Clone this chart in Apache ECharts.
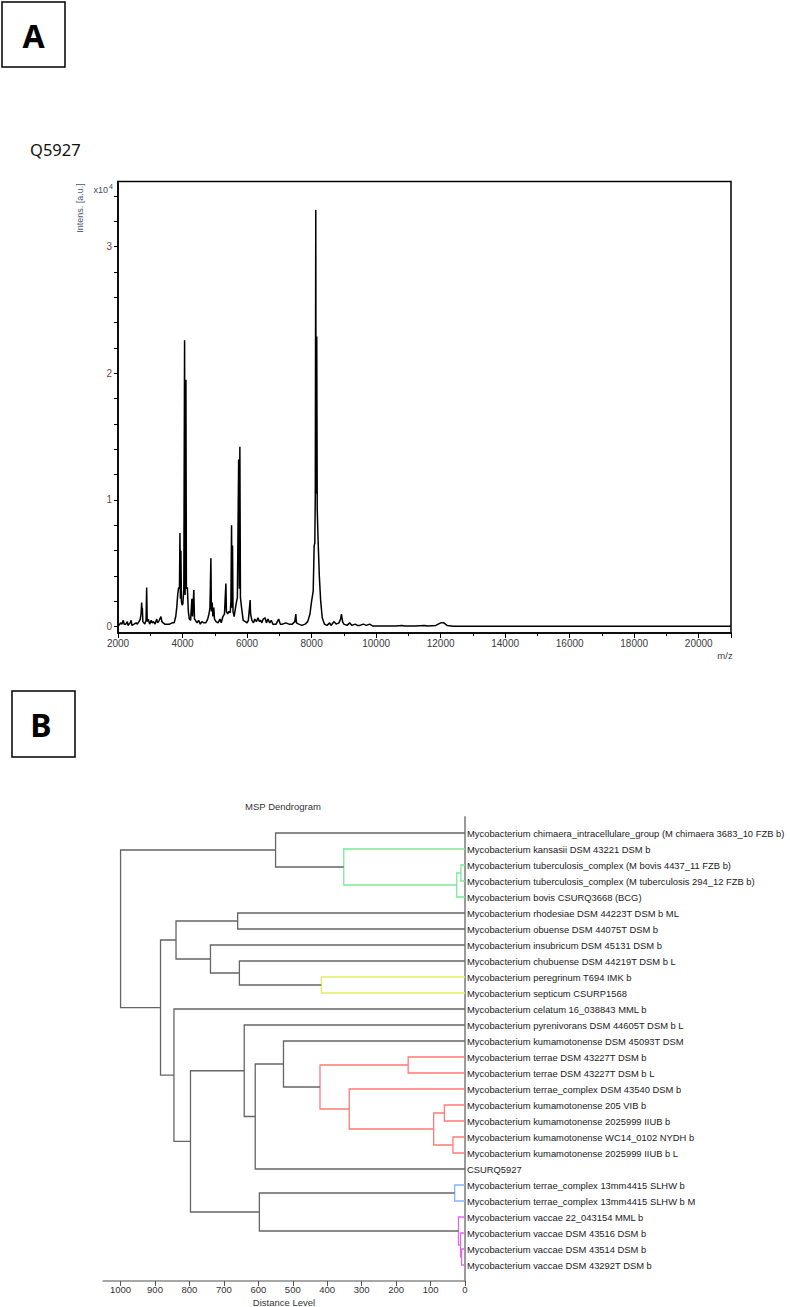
<!DOCTYPE html>
<html>
<head>
<meta charset="utf-8">
<script src="https://cdn.jsdelivr.net/npm/echarts@6/dist/echarts.min.js"></script>
<style>
  html, body { margin: 0; padding: 0; background: #fff; }
  #main { width: 790px; height: 1307px; }
</style>
</head>
<body>
<div id="main"></div>
<script>
// 质谱数据 (m/z, 强度 x10^4)
const mzValues = [
  2000, 2030, 2080, 2120, 2165, 2190, 2240, 2290, 2310, 2380, 2410, 2430, 2500, 2560, 2600, 2650,
  2690, 2715, 2733, 2745, 2755, 2770, 2800, 2830, 2870, 2888, 2905, 2940, 2980, 3030, 3060, 3100,
  3150, 3200, 3230, 3280, 3330, 3360, 3400, 3450, 3530, 3600, 3680, 3740, 3790, 3820, 3850, 3880,
  3905, 3920, 3935, 3950, 3965, 3990, 4010, 4040, 4064, 4080, 4105, 4120, 4150, 4180, 4210, 4250,
  4290, 4310, 4350, 4370, 4400, 4450, 4500, 4550, 4600, 4660, 4720, 4780, 4820, 4850, 4879, 4895,
  4920, 4940, 4970, 4990, 5040, 5100, 5160, 5200, 5250, 5300, 5344, 5360, 5400, 5440, 5480, 5500,
  5520, 5535, 5550, 5565, 5600, 5660, 5700, 5740, 5760, 5777, 5795, 5830, 5880, 5950, 6000, 6040,
  6096, 6110, 6150, 6200, 6240, 6290, 6340, 6380, 6420, 6460, 6500, 6560, 6600, 6650, 6700, 6750,
  6800, 6900, 6980, 7030, 7100, 7200, 7300, 7400, 7480, 7511, 7530, 7600, 7700, 7800, 7880, 7950,
  8000, 8050, 8080, 8100, 8115, 8130, 8140, 8160, 8175, 8200, 8240, 8280, 8330, 8400, 8480, 8560,
  8600, 8700, 8760, 8850, 8900, 8925, 8960, 9000, 9100, 9180, 9250, 9350, 9420, 9500, 9600, 9700,
  9800, 9900, 10200, 10600, 10800, 10900, 11200, 11500, 11600, 11850, 12000, 12100, 12200, 12400,
  14000, 17000, 21000
];
const intensValues = [
  0.02, 0.01, 0.03, 0.02, 0.05, 0.02, 0.02, 0.04, 0.01, 0.03, 0.05, 0.01, 0.02, 0.03, 0.02, 0.04,
  0.06, 0.10, 0.19, 0.12, 0.15, 0.04, 0.03, 0.02, 0.05, 0.31, 0.04, 0.06, 0.02, 0.05, 0.03, 0.04,
  0.02, 0.06, 0.03, 0.05, 0.08, 0.04, 0.03, 0.02, 0.02, 0.02, 0.03, 0.03, 0.08, 0.15, 0.25, 0.31,
  0.30, 0.74, 0.22, 0.60, 0.20, 0.17, 0.18, 0.30, 2.26, 0.25, 1.95, 0.30, 0.31, 0.12, 0.06, 0.05,
  0.22, 0.08, 0.29, 0.06, 0.05, 0.03, 0.05, 0.02, 0.04, 0.03, 0.03, 0.06, 0.10, 0.15, 0.54, 0.12,
  0.19, 0.08, 0.15, 0.06, 0.04, 0.03, 0.06, 0.03, 0.08, 0.10, 0.34, 0.12, 0.10, 0.12, 0.11, 0.20,
  0.80, 0.15, 0.64, 0.12, 0.08, 0.18, 0.23, 1.32, 0.30, 1.42, 0.23, 0.15, 0.05, 0.04, 0.03, 0.05,
  0.21, 0.10, 0.05, 0.03, 0.06, 0.04, 0.07, 0.04, 0.05, 0.03, 0.06, 0.07, 0.03, 0.06, 0.03, 0.05,
  0.02, 0.02, 0.06, 0.02, 0.02, 0.03, 0.02, 0.02, 0.04, 0.10, 0.03, 0.02, 0.01, 0.02, 0.04, 0.10,
  0.20, 0.28, 0.64, 0.66, 1.03, 3.29, 1.05, 2.29, 0.93, 0.70, 0.40, 0.21, 0.07, 0.02, 0.01, 0.03,
  0.01, 0.04, 0.02, 0.03, 0.06, 0.10, 0.04, 0.02, 0.01, 0.03, 0.01, 0.02, 0.01, 0.01, 0.02, 0.01,
  0.02, 0.005, 0.005, 0.005, 0.01, 0.005, 0.005, 0.01, 0.005, 0.01, 0.03, 0.03, 0.01, 0.003,
  0.003, 0.003, 0.003
];
const specXTicks = [2000, 4000, 6000, 8000, 10000, 12000, 14000, 16000, 18000, 20000];
const specYTicks = [0, 1, 2, 3];
const specYMinorTicks = [0, 0.2, 0.4, 0.6, 0.8, 1, 1.2, 1.4, 1.6, 1.8, 2, 2.2, 2.4, 2.6, 2.8, 3, 3.2, 3.4];

// 树状图数据
const leafNames = [
  'Mycobacterium chimaera_intracellulare_group (M chimaera 3683_10 FZB b)',
  'Mycobacterium kansasii DSM 43221 DSM b',
  'Mycobacterium tuberculosis_complex (M bovis 4437_11 FZB b)',
  'Mycobacterium tuberculosis_complex (M tuberculosis 294_12 FZB b)',
  'Mycobacterium bovis CSURQ3668 (BCG)',
  'Mycobacterium rhodesiae DSM 44223T DSM b ML',
  'Mycobacterium obuense DSM 44075T DSM b',
  'Mycobacterium insubricum DSM 45131 DSM b',
  'Mycobacterium chubuense DSM 44219T DSM b L',
  'Mycobacterium peregrinum T694 IMK b',
  'Mycobacterium septicum CSURP1568',
  'Mycobacterium celatum 16_038843 MML b',
  'Mycobacterium pyrenivorans DSM 44605T DSM b L',
  'Mycobacterium kumamotonense DSM 45093T DSM',
  'Mycobacterium terrae DSM 43227T DSM b',
  'Mycobacterium terrae DSM 43227T DSM b L',
  'Mycobacterium terrae_complex DSM 43540 DSM b',
  'Mycobacterium kumamotonense 205 VIB b',
  'Mycobacterium kumamotonense 2025999 IIUB b',
  'Mycobacterium kumamotonense WC14_0102 NYDH b',
  'Mycobacterium kumamotonense 2025999 IIUB b L',
  'CSURQ5927',
  'Mycobacterium terrae_complex 13mm4415 SLHW b',
  'Mycobacterium terrae_complex 13mm4415 SLHW b M',
  'Mycobacterium vaccae 22_043154 MML b',
  'Mycobacterium vaccae DSM 43516 DSM b',
  'Mycobacterium vaccae DSM 43514 DSM b',
  'Mycobacterium vaccae DSM 43292T DSM b'
];
// 合并: [子节点A, 子节点B, 距离]，叶子 0-27，新节点从 28 开始编号
const merges = [
  [2, 3, 12], [28, 4, 24], [1, 29, 352], [0, 30, 550],
  [5, 6, 660], [9, 10, 417], [8, 33, 655], [7, 34, 739], [32, 35, 839],
  [14, 15, 165], [17, 18, 60], [19, 20, 35], [38, 39, 91], [16, 40, 336], [37, 41, 421],
  [13, 42, 527], [43, 21, 609], [12, 44, 641],
  [22, 23, 30], [26, 27, 10], [25, 47, 13], [24, 48, 19], [46, 49, 597],
  [45, 50, 797], [11, 51, 845], [36, 52, 884], [31, 53, 1000]
];
const mergeColors = [
  '#7ee89a', '#7ee89a', '#7ee89a', null,
  null, '#e2ee5c', null, null, null,
  '#ff7a7a', '#ff7a7a', '#ff7a7a', '#ff7a7a', '#ff7a7a', '#ff7a7a',
  null, null, null,
  '#86b2ff', '#de6cef', '#de6cef', '#de6cef', null,
  null, null, null, null
];
const distTicks = [0, 100, 200, 300, 400, 500, 600, 700, 800, 900, 1000];

const FONT = 'Liberation Sans, Arial, sans-serif';

// 构建质谱曲线
const spectrumData = mzValues.map((mz, i) => [mz, intensValues[i]]);

// 构建树状图线段
const nodePos = leafNames.map((n, i) => [0, i]);
const dendroLines = merges.map((m, k) => {
  const a = nodePos[m[0]];
  const b = nodePos[m[1]];
  const h = m[2];
  nodePos.push([h, (a[1] + b[1]) / 2]);
  return {
    coords: [[a[0], a[1]], [h, a[1]], [h, b[1]], [b[0], b[1]]],
    lineStyle: { color: mergeColors[k] || '#666' }
  };
});

const chart = echarts.init(document.getElementById('main'), null, { renderer: 'svg' });

const option = {
  animation: false,
  grid: [
    { left: 118, right: 59, top: 181.5, height: 451.5, show: true, borderColor: '#000', borderWidth: 1.5, outerBoundsMode: 'none', containLabel: false },
    { left: 103, right: 325, top: 817, height: 464, outerBoundsMode: 'none', containLabel: false }
  ],
  xAxis: [
    {
      gridIndex: 0, type: 'value', min: 2000, max: 21000, interval: 2000,
      axisLine: { onZero: false, lineStyle: { color: '#000', width: 1.5 } },
      axisTick: { length: 5, lineStyle: { color: '#000' } },
      minorTick: { show: true, splitNumber: 2, length: 3, lineStyle: { color: '#000' } },
      axisLabel: { customValues: specXTicks, formatter: v => String(v), fontSize: 10, fontFamily: FONT, color: '#3a3a3a', margin: 5 },
      splitLine: { show: false }
    },
    {
      gridIndex: 1, type: 'value', inverse: true, min: 0, max: 1051,
      name: 'Distance Level', nameLocation: 'middle', nameGap: 16,
      nameTextStyle: { fontSize: 9.5, fontFamily: FONT, color: '#333' },
      axisLine: { onZero: false, lineStyle: { color: '#8a8a8a', width: 1.5 } },
      axisTick: { customValues: distTicks, length: 5, lineStyle: { color: '#555' } },
      axisLabel: { customValues: distTicks, formatter: v => String(v), fontSize: 9.5, fontFamily: FONT, color: '#333', margin: 3 },
      splitLine: { show: false }
    }
  ],
  yAxis: [
    {
      gridIndex: 0, type: 'value', min: -0.05, max: 3.514,
      axisLine: { onZero: false, lineStyle: { color: '#000', width: 1.5 } },
      axisTick: { customValues: specYMinorTicks, length: 4, lineStyle: { color: '#000' } },
      axisLabel: { customValues: specYTicks, fontSize: 10, fontFamily: FONT, color: '#6b4c3b', margin: 6 },
      splitLine: { show: false }
    },
    {
      gridIndex: 1, type: 'value', inverse: true, min: -1, max: 28, position: 'right',
      axisLine: { onZero: false, lineStyle: { color: '#9a9a9a', width: 2 } },
      axisTick: { show: false },
      axisLabel: {
        customValues: leafNames.map((n, i) => i),
        formatter: v => leafNames[v] || '',
        fontSize: 9.4, fontFamily: FONT, color: '#222', margin: 2
      },
      splitLine: { show: false }
    }
  ],
  series: [
    {
      type: 'line', xAxisIndex: 0, yAxisIndex: 0,
      data: spectrumData, showSymbol: false, symbol: 'none',
      lineStyle: { color: '#000', width: 1.5 }
    },
    {
      type: 'lines', coordinateSystem: 'cartesian2d', xAxisIndex: 1, yAxisIndex: 1,
      polyline: true, data: dendroLines,
      lineStyle: { width: 1.3, opacity: 1 }
    }
  ],
  graphic: [
    { type: 'rect', shape: { x: 2, y: 2, width: 63, height: 65 }, style: { fill: 'none', stroke: '#000', lineWidth: 1.5 } },
    { type: 'text', x: 33.5, y: 35, style: { text: 'A', font: 'bold 32px "Noto Sans", sans-serif', fill: '#000', align: 'center', verticalAlign: 'middle' } },
    { type: 'text', x: 30, y: 149, style: { text: 'Q5927', font: '16.5px "Noto Sans", sans-serif', fill: '#111', align: 'left', verticalAlign: 'middle' } },
    { type: 'text', x: 108, y: 190, style: { text: 'x10', font: '9px ' + FONT, fill: '#3e4a66', align: 'right', verticalAlign: 'middle' } },
    { type: 'text', x: 109, y: 186, style: { text: '4', font: '7px ' + FONT, fill: '#3e4a66', align: 'left', verticalAlign: 'middle' } },
    { type: 'text', x: 80, y: 208, rotation: Math.PI / 2, style: { text: 'Intens. [a.u.]', font: '9px ' + FONT, fill: '#4a5670', align: 'center', verticalAlign: 'middle' } },
    { type: 'text', x: 725, y: 655, style: { text: 'm/z', font: '9.5px ' + FONT, fill: '#3a3a3a', align: 'center', verticalAlign: 'middle' } },
    { type: 'rect', shape: { x: 12, y: 691, width: 63, height: 66 }, style: { fill: 'none', stroke: '#000', lineWidth: 1.5 } },
    { type: 'text', x: 41, y: 724, style: { text: 'B', font: 'bold 32px "Noto Sans", sans-serif', fill: '#000', align: 'center', verticalAlign: 'middle' } },
    { type: 'text', x: 283, y: 806, style: { text: 'MSP Dendrogram', font: '9.5px ' + FONT, fill: '#333', align: 'center', verticalAlign: 'middle' } }
  ]
};

chart.setOption(option);
</script>
</body>
</html>
